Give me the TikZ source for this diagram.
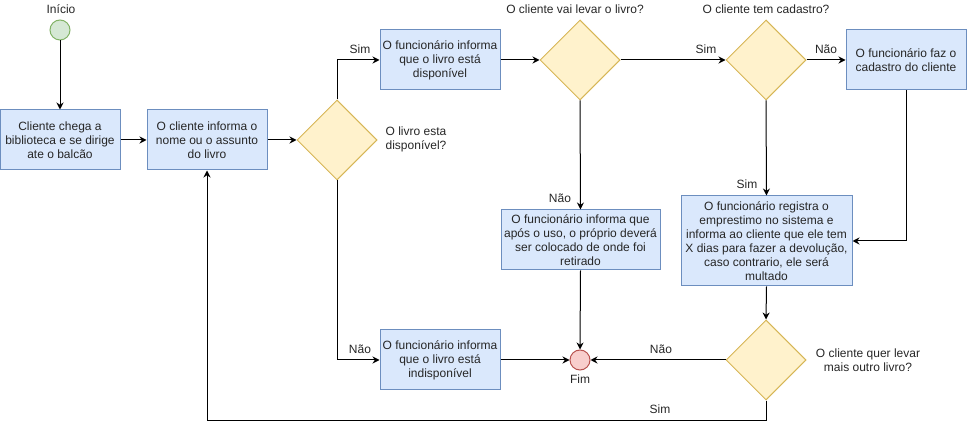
\documentclass[tikz,border=0pt]{standalone}
\usepackage{fontspec}
\setmainfont{Liberation Sans}
\usetikzlibrary{arrows.meta, shapes.geometric}
\definecolor{boxfill}{HTML}{DAE8FC}
\definecolor{boxline}{HTML}{6C8EBF}
\definecolor{askfill}{HTML}{FFF2CC}
\definecolor{askline}{HTML}{D6B656}
\definecolor{startfill}{HTML}{D5E8D4}
\definecolor{startline}{HTML}{82B366}
\definecolor{endfill}{HTML}{F8CECC}
\definecolor{endline}{HTML}{B85450}

\begin{document}
\begin{tikzpicture}[x=1pt, y=-1pt, line width=1pt,
  every node/.style={font=\fontsize{12}{14}\selectfont, text=black!85},
  passo/.style={draw=boxline, fill=boxfill, rectangle, align=center, inner sep=0pt,
                minimum width=120pt, minimum height=60pt},
  pergunta/.style={draw=askline, fill=askfill, diamond, inner sep=0pt,
                   minimum width=80pt, minimum height=80pt},
  seta/.style={-{Stealth[length=7pt, width=7pt]}}]
  \useasboundingbox (0,0) rectangle (967,430);

  % inicio e fim
  \node[circle, draw=startline, fill=startfill, minimum size=20pt, inner sep=0pt] (inicio) at (60,30) {};
  \node (txtinicio) at (61,9) {Início};
  \node[circle, draw=endline, fill=endfill, minimum size=20pt, inner sep=0pt] (fim) at (580,360) {};
  \node (txtfim) at (580,379) {Fim};

  % passos
  \node[passo] (chega) at (60,140) {Cliente chega a\\biblioteca e se dirige\\ate o balcão};
  \node[passo] (informa) at (207,140) {O cliente informa o\\nome ou o assunto\\do livro};
  \node[passo] (disp) at (440,60) {O funcionário informa\\que o livro está\\disponível};
  \node[passo] (indisp) at (440,360) {O funcionário informa\\que o livro está\\indisponível};
  \node[passo] (cadastro) at (906,60) {O funcionário faz o\\cadastro do cliente};
  \node[passo, minimum width=159pt] (uso) at (580.5,240) {O funcionário informa que\\após o uso, o próprio deverá\\ser colocado de onde foi\\retirado};
  \node[passo, minimum width=171pt, minimum height=90pt] (registra) at (766.5,241) {O funcionário registra o\\emprestimo no sistema e\\informa ao cliente que ele tem\\X dias para fazer a devolução,\\caso contrario, ele será\\multado};

  % perguntas
  \node[pergunta] (q1) at (337,140) {};
  \node[align=center] (txtq1) at (416,139) {O livro esta\\disponível?};
  \node[pergunta] (q2) at (580,60) {};
  \node (txtq2) at (575,9) {O cliente vai levar o livro?};
  \node[pergunta] (q3) at (766,60) {};
  \node (txtq3) at (766,9) {O cliente tem cadastro?};
  \node[pergunta] (q4) at (766,360) {};
  \node[align=center] (txtq4) at (868,360) {O cliente quer levar\\mais outro livro?};

  % ligacoes
  \draw[seta] (inicio) -- (chega);
  \draw[seta] (chega) -- (informa);
  \draw[seta] (informa) -- (q1);
  \draw[seta] (q1.north) |- (disp.west);
  \draw[seta] (q1.south) |- (indisp.west);
  \draw[seta] (disp) -- (q2);
  \draw[seta] (q2) -- (q3);
  \draw[seta] (q3) -- (cadastro);
  \draw[seta] (q2.south) -- (uso.north);
  \draw[seta] (q3.south) -- (registra.north);
  \draw[seta] (cadastro.south) |- (registra.east);
  \draw[seta] (registra.south) -- (q4.north);
  \draw[seta] (uso.south) -- (fim.north);
  \draw[seta] (indisp.east) -- (fim.west);
  \draw[seta] (q4.west) -- (fim.east);
  \draw[seta] (q4.south) -- ++(0,20) -| (informa.south);

  % rotulos
  \node (sim1) at (360,49) {Sim};
  \node (nao1) at (360,349) {Não};
  \node (sim2) at (706,49) {Sim};
  \node (nao2) at (560,198) {Não};
  \node (nao3) at (826,49) {Não};
  \node (sim3) at (747,184) {Sim};
  \node (nao4) at (661,349) {Não};
  \node (sim4) at (660,409) {Sim};
\end{tikzpicture}
\end{document}
